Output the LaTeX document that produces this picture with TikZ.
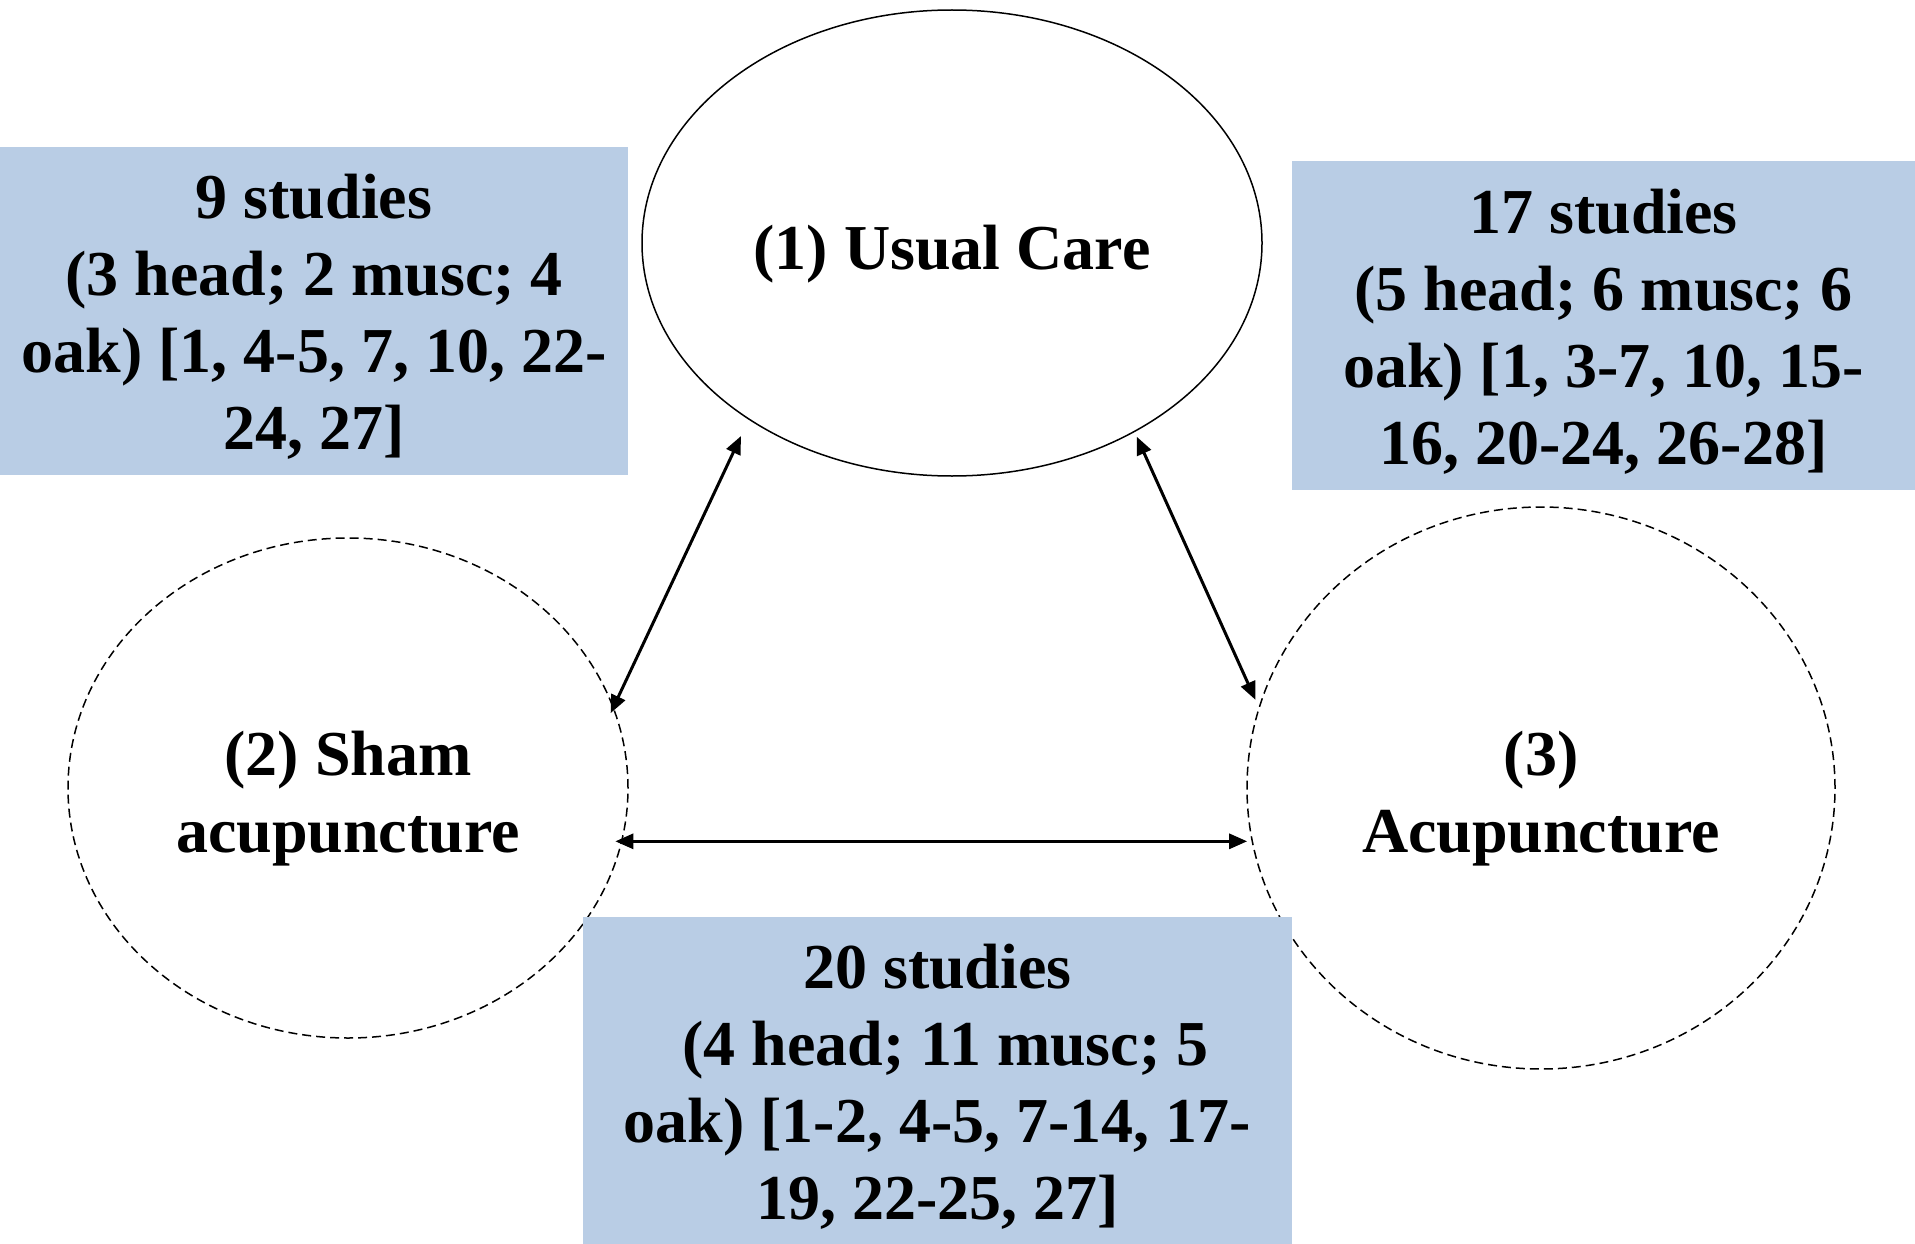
\documentclass[tikz,border=0pt]{standalone}
\usepackage{fontspec}
\setmainfont{Liberation Serif}
\usetikzlibrary{shapes.geometric,arrows.meta}
\definecolor{boxblue}{RGB}{185,205,229}
\begin{document}
\begin{tikzpicture}[x=1pt,y=-1pt,
  txt/.style={font=\fontsize{64}{77}\selectfont\bfseries, align=center, text=black},
  arm/.style={ellipse, draw=black, line width=1.5pt, inner sep=0pt, fill=white, txt},
  shamarm/.style={arm, dash pattern=on 9pt off 5pt},
  infobox/.style={rectangle, fill=boxblue, inner sep=0pt, txt},
  link/.style={line width=3pt, {Triangle[length=18pt,width=15pt]}-{Triangle[length=18pt,width=15pt]}}
]
\useasboundingbox[fill=white] (0,0) rectangle (1915,1244);

% treatment arms
\node[arm, minimum width=620pt, minimum height=466pt] (uc) at (952,243) {};
\node[txt] (uct) at (952,254) {(1) Usual Care};
\node[shamarm, minimum width=560pt, minimum height=500pt] (sham) at (348,788) {};
\node[txt] (shamt) at (348,799) {(2) Sham\\acupuncture};
\node[shamarm, minimum width=588pt, minimum height=562pt] (acu) at (1541,788) {};
\node[txt] (acut) at (1541,799) {(3)\\Acupuncture};

% direct comparisons
\draw[link, shorten <=18pt, shorten >=-7pt] (uc.221.7) -- (sham.17.6);
\draw[link, shorten <=5pt, shorten >=8pt] (uc.314.7) -- (acu.164.2);
\draw[link, shorten <=-7pt, shorten >=4pt] (sham.349.5) -- (sham.349.5 -| acu.190.4);

% evidence counts per comparison
\node[infobox, minimum width=628pt, minimum height=328pt] (b12) at (314,311) {};
\node[txt] (b12t) at (314,317)
  {9 studies\\(3 head; 2 musc; 4\\oak) [1, 4-5, 7, 10, 22-\\24, 27]};
\node[infobox, minimum width=623pt, minimum height=329pt] (b13) at (1603.5,325.5) {};
\node[txt] (b13t) at (1603.5,332)
  {17 studies\\(5 head; 6 musc; 6\\oak) [1, 3-7, 10, 15-\\16, 20-24, 26-28]};
\node[infobox, minimum width=709pt, minimum height=327pt] (b23) at (937.5,1080.5) {};
\node[txt] (b23t) at (937.5,1087)
  {20 studies\\\ (4 head; 11 musc; 5\\oak) [1-2, 4-5, 7-14, 17-\\19, 22-25, 27]};
\end{tikzpicture}
\end{document}
